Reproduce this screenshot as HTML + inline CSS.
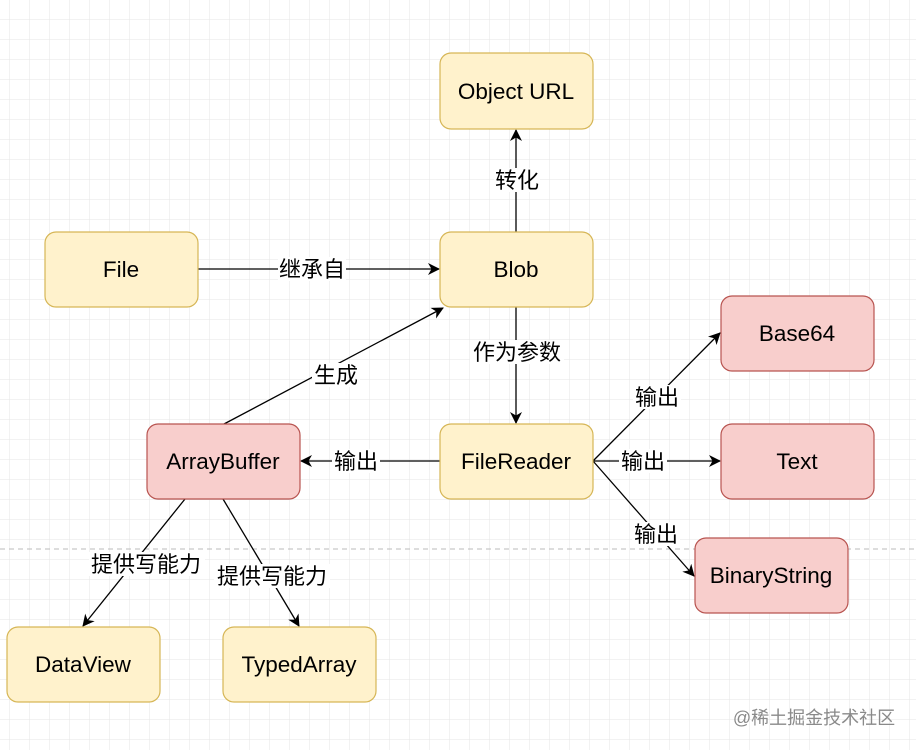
<!DOCTYPE html>
<html><head><meta charset="utf-8"><style>
html,body{margin:0;padding:0;background:#fff;}
svg text{font-family:"Liberation Sans","Noto Sans CJK SC",sans-serif;}
</style></head><body>
<svg width="916" height="750" xmlns="http://www.w3.org/2000/svg">
<defs>
<pattern id="g" width="20" height="20" patternUnits="userSpaceOnUse" x="10" y="0">
<path d="M20 0V20M0 20H20" fill="none" stroke="#e6e6e6" stroke-width="1"/>
</pattern>
<marker id="a" markerWidth="12" markerHeight="12" refX="11" refY="6" orient="auto" markerUnits="userSpaceOnUse">
<path d="M0,0 L12,6 L0,12 L3.5,6 Z" fill="#000"/>
</marker>
</defs>
<rect width="916" height="750" fill="#fff"/>
<rect width="916" height="750" fill="url(#g)"/>
<line x1="0" y1="549" x2="916" y2="549" stroke="#bbb" stroke-dasharray="5,4"/>
<g stroke="#000" stroke-width="1.3" fill="none" marker-end="url(#a)">
<line x1="198" y1="269" x2="439" y2="269"/>
<line x1="516" y1="232" x2="516" y2="130"/>
<line x1="516" y1="307" x2="516" y2="423"/>
<line x1="224" y1="424" x2="443" y2="308"/>
<line x1="440" y1="461" x2="301" y2="461"/>
<line x1="593" y1="461" x2="720" y2="333"/>
<line x1="593" y1="461" x2="720" y2="461"/>
<line x1="593" y1="461" x2="694" y2="576"/>
<line x1="185" y1="499" x2="83" y2="626"/>
<line x1="223" y1="499" x2="299" y2="626"/>
</g>
<g stroke-width="1.2">
<rect x="440" y="53" width="153" height="76" rx="11" fill="#fff2cc" stroke="#d6b656"/>
<rect x="45" y="232" width="153" height="75" rx="11" fill="#fff2cc" stroke="#d6b656"/>
<rect x="440" y="232" width="153" height="75" rx="11" fill="#fff2cc" stroke="#d6b656"/>
<rect x="721" y="296" width="153" height="75" rx="11" fill="#f8cecc" stroke="#b85450"/>
<rect x="147" y="424" width="153" height="75" rx="11" fill="#f8cecc" stroke="#b85450"/>
<rect x="440" y="424" width="153" height="75" rx="11" fill="#fff2cc" stroke="#d6b656"/>
<rect x="721" y="424" width="153" height="75" rx="11" fill="#f8cecc" stroke="#b85450"/>
<rect x="695" y="538" width="153" height="75" rx="11" fill="#f8cecc" stroke="#b85450"/>
<rect x="7" y="627" width="153" height="75" rx="11" fill="#fff2cc" stroke="#d6b656"/>
<rect x="223" y="627" width="153" height="75" rx="11" fill="#fff2cc" stroke="#d6b656"/>
</g>
<g font-size="22.5" text-anchor="middle" fill="#000">
<text x="516" y="99">Object URL</text>
<text x="121" y="277">File</text>
<text x="516" y="277">Blob</text>
<text x="797" y="341">Base64</text>
<text x="223" y="469">ArrayBuffer</text>
<text x="516" y="469">FileReader</text>
<text x="797" y="469">Text</text>
<text x="771" y="583">BinaryString</text>
<text x="83" y="672">DataView</text>
<text x="299" y="672">TypedArray</text>
</g>
<g font-size="22" text-anchor="middle" fill="#000">
<rect x="278" y="257" width="68" height="24" fill="#fff"/>
<text x="312" y="277">继承自</text>
<rect x="494" y="168" width="46" height="24" fill="#fff"/>
<text x="517" y="188">转化</text>
<rect x="470" y="340" width="94" height="24" fill="#fff"/>
<text x="517" y="360">作为参数</text>
<rect x="312" y="363" width="48" height="24" fill="#fff"/>
<text x="336" y="383">生成</text>
<rect x="332" y="449" width="48" height="24" fill="#fff"/>
<text x="356" y="469">输出</text>
<rect x="633" y="385" width="48" height="24" fill="#fff"/>
<text x="657" y="405">输出</text>
<rect x="619" y="449" width="48" height="24" fill="#fff"/>
<text x="643" y="469">输出</text>
<rect x="632" y="522" width="48" height="24" fill="#fff"/>
<text x="656" y="542">输出</text>
<rect x="89" y="552" width="116" height="24" fill="#fff"/>
<text x="146" y="572">提供写能力</text>
<rect x="214" y="564" width="116" height="24" fill="#fff"/>
<text x="272" y="584">提供写能力</text>
</g>
<text x="814" y="724" font-size="18" text-anchor="middle" fill="#8a8a8a" font-family="Liberation Sans, Noto Sans CJK SC, sans-serif">@稀土掘金技术社区</text>
</svg>
</body></html>
